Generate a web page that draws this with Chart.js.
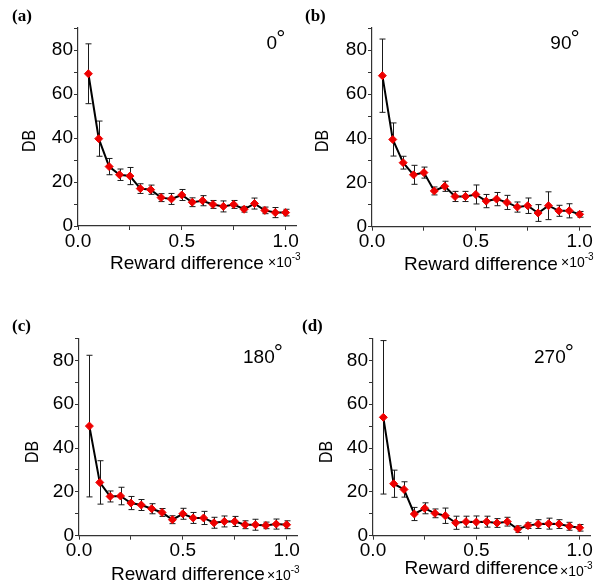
<!DOCTYPE html>
<html>
<head>
<meta charset="utf-8">
<script src="https://cdn.jsdelivr.net/npm/chart.js@4/dist/chart.umd.min.js"></script>
<style>
    body { margin: 0; background: #fff; }
    #figure { position: relative; width: 604px; height: 588px; background: #fff; overflow: hidden; }
    .panel { position: absolute; width: 302px; height: 294px; }
    .lbl { position: absolute; white-space: nowrap; color: #000; font-family: "Liberation Sans", Arial, sans-serif; }
    .panel-tag { font-family: "Liberation Serif", "Times New Roman", serif; font-weight: bold; font-size: 17px; line-height: 17px; }
    .angle { font-size: 19px; line-height: 19px; transform: translateX(-50%); }
    .angle span { font-size: 23px; position: relative; top: -3px; margin-left: -1px; }
    .ylab { font-size: 19px; line-height: 19px; transform: translate(-50%, -50%) rotate(-90deg) scaleX(0.84); }
    .exp { font-size: 14px; line-height: 14px; }
    .exp sup { font-size: 10px; position: relative; top: -1px; }
</style>
</head>
<body>
<div id="figure"></div>
<script>
// Reward difference (x10^-3) sampled at 20 steps
const rewardDiff = [0.05, 0.10, 0.15, 0.20, 0.25, 0.30, 0.35, 0.40, 0.45, 0.50,
                    0.55, 0.60, 0.65, 0.70, 0.75, 0.80, 0.85, 0.90, 0.95, 1.00];

// DB values and error bar half-widths, one pair per rotation
const db0   = [69.2, 39.7, 27.0, 23.3, 22.7, 17.0, 16.5, 12.9, 12.3, 14.1, 10.8, 11.5, 9.8, 8.9, 9.8, 7.6, 10.2, 7.1, 6.1, 6.1];
const err0  = [13.6, 8.0, 3.7, 2.6, 3.9, 2.2, 2.1, 1.8, 2.5, 2.5, 2.0, 2.3, 1.8, 2.5, 1.8, 1.3, 2.5, 1.5, 2.3, 1.5];
const db90  = [68.4, 39.5, 29.0, 23.5, 24.5, 16.2, 18.3, 13.7, 13.7, 14.6, 11.6, 12.5, 11.0, 8.9, 9.5, 6.2, 9.5, 7.2, 7.2, 5.6];
const err90 = [16.6, 7.5, 2.9, 4.3, 2.5, 1.8, 2.3, 2.3, 2.3, 4.3, 3.0, 3.0, 3.2, 2.3, 3.5, 3.8, 6.3, 2.5, 3.2, 1.3];
const db180  = [50.0, 24.3, 17.9, 18.1, 14.9, 14.0, 12.3, 10.6, 7.3, 10.0, 8.1, 8.1, 5.9, 6.5, 6.5, 5.0, 5.0, 4.7, 5.3, 5.0];
const err180 = [32.3, 9.9, 2.5, 4.0, 3.0, 2.5, 2.3, 1.8, 1.8, 2.5, 2.5, 3.0, 2.5, 2.5, 2.3, 1.8, 2.5, 1.5, 2.3, 1.8];
const db270  = [54.0, 23.7, 21.1, 9.9, 12.5, 10.2, 9.1, 5.9, 6.4, 6.2, 6.4, 5.8, 6.4, 3.0, 4.6, 5.3, 5.5, 5.3, 4.3, 3.6];
const err270 = [35.0, 6.2, 3.5, 3.0, 2.5, 2.0, 3.5, 3.0, 2.5, 2.8, 2.5, 2.0, 2.0, 1.5, 1.3, 2.0, 2.5, 2.0, 1.8, 1.5];

const panelTags = ['(a)', '(b)', '(c)', '(d)'];
const angleTexts = ['0', '90', '180', '270'];
const xTickLabels = ['0.0', '0.5', '1.0'];
const yTickLabels = ['0', '20', '40', '60', '80'];

const FONT = '"Liberation Sans", Arial, sans-serif';

// Panel layout: canvas position, plot area and title centre inside the canvas,
// overlay text positions in figure coordinates
const layouts = [
    { left: 0,   top: 0,   area: { l: 78, r: 296, t: 28,   b: 226 },   titleMid: 264,   tag: [12, 7],    angle: [276, 32],  ylab: [28, 141],   exp: [268, 251] },
    { left: 302, top: 0,   area: { l: 70, r: 288, t: 28,   b: 226.7 }, titleMid: 264.5, tag: [305, 7],   angle: [565, 32],  ylab: [321, 141],  exp: [561, 251] },
    { left: 0,   top: 294, area: { l: 79, r: 297, t: 44.4, b: 241.7 }, titleMid: 281,   tag: [12, 317],  angle: [263, 346], ylab: [31, 452],   exp: [267, 564] },
    { left: 302, top: 294, area: { l: 71, r: 288, t: 44.4, b: 241.7 }, titleMid: 275,   tag: [302, 317], angle: [554, 346], ylab: [325, 452],  exp: [560, 560] }
];

const seriesValues = [db0, db90, db180, db270];
const seriesErrors = [err0, err90, err180, err270];

// Draws vertical error bars with caps behind the line and markers
const errorBars = {
    id: 'errorBars',
    beforeDatasetsDraw(chart) {
        const { ctx, scales: { x, y } } = chart;
        chart.data.datasets.forEach(ds => {
            if (!ds.errors) return;
            ctx.save();
            ctx.strokeStyle = '#1a1a1a';
            ctx.lineWidth = 1;
            ds.data.forEach((p, i) => {
                const e = ds.errors[i];
                const px = Math.round(x.getPixelForValue(p.x)) + 0.5;
                const top = y.getPixelForValue(p.y + e);
                const bot = y.getPixelForValue(p.y - e);
                ctx.beginPath();
                ctx.moveTo(px, top); ctx.lineTo(px, bot);
                ctx.moveTo(px - 3, top); ctx.lineTo(px + 3, top);
                ctx.moveTo(px - 3, bot); ctx.lineTo(px + 3, bot);
                ctx.stroke();
            });
            ctx.restore();
        });
    }
};

function makePanel(fig, idx) {
    const lay = layouts[idx];
    const W = 302, H = 294;
    const xHeight = H - lay.area.b;
    const lineH = 19 * 1.2;
    const titlePad = Math.max(0, H - lay.titleMid - lineH / 2);

    const wrap = document.createElement('div');
    wrap.className = 'panel';
    wrap.style.left = lay.left + 'px';
    wrap.style.top = lay.top + 'px';
    wrap.innerHTML = '<canvas width="' + W + '" height="' + H + '"></canvas>';
    fig.appendChild(wrap);

    const values = seriesValues[idx];
    const points = rewardDiff.map((x, i) => ({ x: x, y: values[i] }));

    new Chart(wrap.querySelector('canvas'), {
        type: 'line',
        data: {
            datasets: [{
                data: points,
                errors: seriesErrors[idx],
                borderColor: '#000',
                borderWidth: 2,
                tension: 0,
                pointStyle: 'rectRot',
                pointRadius: 4,
                pointBackgroundColor: '#ee0000',
                pointBorderColor: '#ee0000',
                pointBorderWidth: 1
            }]
        },
        options: {
            responsive: false,
            animation: false,
            devicePixelRatio: 1,
            layout: { padding: { left: 0, right: W - lay.area.r, top: lay.area.t, bottom: 0 } },
            plugins: { legend: { display: false }, tooltip: { enabled: false } },
            scales: {
                x: {
                    type: 'linear',
                    min: 0,
                    max: 1.05,
                    afterFit: s => { s.height = xHeight; },
                    border: { display: true, color: '#333', width: 1.2 },
                    grid: { drawOnChartArea: false, drawTicks: true, tickLength: 4, color: '#333' },
                    ticks: {
                        stepSize: 0.25,
                        autoSkip: false,
                        includeBounds: false,
                        maxRotation: 0,
                        padding: 0,
                        color: '#000',
                        font: { family: FONT, size: 19 },
                        callback: v => {
                            const k = Math.round(v * 2);
                            return Math.abs(v * 2 - k) < 1e-6 ? xTickLabels[k] : '';
                        }
                    },
                    title: {
                        display: true,
                        text: 'Reward difference',
                        color: '#000',
                        font: { family: FONT, size: 19 },
                        padding: { top: 0, bottom: titlePad }
                    }
                },
                y: {
                    min: 0,
                    max: 90,
                    afterFit: s => { s.width = lay.area.l; },
                    border: { display: true, color: '#333', width: 1.2 },
                    grid: { drawOnChartArea: false, drawTicks: true, tickLength: 4, color: '#333' },
                    ticks: {
                        stepSize: 10,
                        autoSkip: false,
                        padding: 1,
                        color: '#000',
                        font: { family: FONT, size: 19 },
                        callback: v => (v % 20 === 0 && v <= 80) ? yTickLabels[v / 20] : ''
                    }
                }
            }
        },
        plugins: [errorBars]
    });

    // Text overlays: panel tag, rotation angle, y title, axis exponent
    const tag = document.createElement('div');
    tag.className = 'lbl panel-tag';
    tag.style.left = lay.tag[0] + 'px';
    tag.style.top = lay.tag[1] + 'px';
    tag.textContent = panelTags[idx];
    fig.appendChild(tag);

    const ang = document.createElement('div');
    ang.className = 'lbl angle';
    ang.style.left = lay.angle[0] + 'px';
    ang.style.top = lay.angle[1] + 'px';
    ang.innerHTML = angleTexts[idx] + '<span>°</span>';
    fig.appendChild(ang);

    const yl = document.createElement('div');
    yl.className = 'lbl ylab';
    yl.style.left = lay.ylab[0] + 'px';
    yl.style.top = lay.ylab[1] + 'px';
    yl.textContent = 'DB';
    fig.appendChild(yl);

    const ex = document.createElement('div');
    ex.className = 'lbl exp';
    ex.style.left = lay.exp[0] + 'px';
    ex.style.top = lay.exp[1] + 'px';
    ex.innerHTML = '×10<sup>-3</sup>';
    fig.appendChild(ex);
}

const fig = document.getElementById('figure');
for (let i = 0; i < 4; i++) makePanel(fig, i);
</script>
</body>
</html>
